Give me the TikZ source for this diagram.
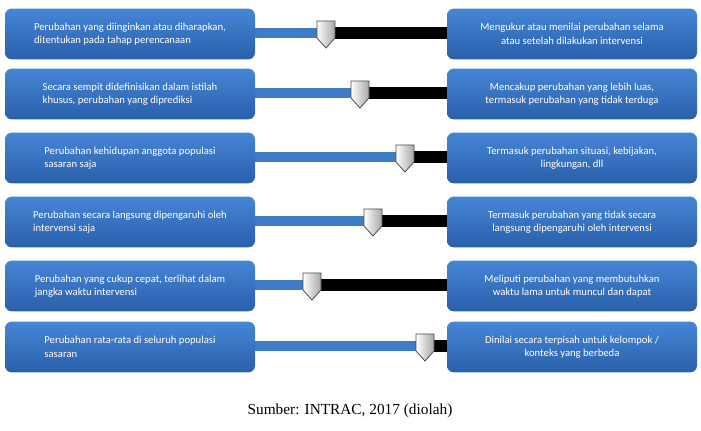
\documentclass[tikz,border=0pt]{standalone}
\usepackage{fontspec}
\setmainfont{Liberation Serif}
\newfontfamily\boxfont{Carlito}
\usepackage{xcolor}
\definecolor{boxtop}{HTML}{4586D6}
\definecolor{boxbot}{HTML}{2A5FAA}
\definecolor{bar}{HTML}{3F7CC8}
\tikzset{
  box/.style={rounded corners=5pt, top color=boxtop, bottom color=boxbot, draw=none,
    minimum width=187.5pt, minimum height=38pt,
    text=white, font=\boxfont\fontsize{8}{10}\selectfont},
  knob/.style={draw=black!70, line width=0.6pt, left color=white, right color=black!35}
}
\begin{document}
\begin{tikzpicture}[x=0.75pt,y=-0.75pt]
\useasboundingbox (0,0) rectangle (701,431);
\foreach \y/\k/\l/\r [count=\i] in {
  34/326/{Perubahan yang diinginkan atau diharapkan,\\ditentukan pada tahap perencanaan}/{Mengukur atau menilai perubahan selama\\atau setelah dilakukan intervensi},
  94/360/{Secara sempit didefinisikan dalam istilah\\khusus, perubahan yang diprediksi}/{Mencakup perubahan yang lebih luas,\\termasuk perubahan yang tidak terduga},
  158/405/{Perubahan kehidupan anggota populasi\\sasaran saja}/{Termasuk perubahan situasi, kebijakan,\\lingkungan, dll},
  222/373/{Perubahan secara langsung dipengaruhi oleh\\intervensi saja}/{Termasuk perubahan yang tidak secara\\langsung dipengaruhi oleh intervensi},
  286/312/{Perubahan yang cukup cepat, terlihat dalam\\jangka waktu intervensi}/{Meliputi perubahan yang membutuhkan\\waktu lama untuk muncul dan dapat},
  347/425/{Perubahan rata-rata di seluruh populasi\\sasaran}/{Dinilai secara terpisah untuk kelompok /\\konteks yang berbeda}}
{
  \node[box, align=left] (l\i) at (130,\y) {\l};
  \node[box, align=center] (r\i) at (572,\y) {\r};
  \fill[bar] (l\i.east|-0,\y-6) rectangle (\k,\y+4);
  \fill[black] (\k,\y-7) rectangle (r\i.west|-0,\y+5);
  \draw[knob] (\k-9,\y-13) -- (\k+9,\y-13) -- (\k+9,\y+4) -- (\k,\y+14) -- (\k-9,\y+4) -- cycle;
}
\node[font=\fontsize{11.5}{13}\selectfont] (src) at (350,411) {Sumber: INTRAC, 2017 (diolah)};
\end{tikzpicture}
\end{document}
